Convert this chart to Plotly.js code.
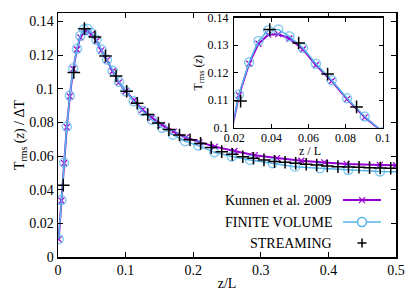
<!DOCTYPE html>
<html>
<head>
<meta charset="utf-8">
<script src="https://cdn.plot.ly/plotly-3.0.1.min.js"></script>
<style>html,body{margin:0;padding:0;background:#fff;}#chart{width:415px;height:291px;}</style>
</head>
<body>
<div id="chart"></div>
<script>
// ---- data ----
const zKunnen = [0.001, 0.005, 0.009, 0.013, 0.0175, 0.0225, 0.028, 0.033, 0.0383, 0.0437, 0.0497, 0.057, 0.064, 0.0725, 0.0808, 0.0903, 0.1, 0.112, 0.125, 0.139, 0.154, 0.171, 0.189, 0.209, 0.232, 0.261, 0.291, 0.324, 0.36, 0.394, 0.427, 0.476, 0.5];
const tKunnen = [0.0105, 0.0335, 0.0558, 0.0772, 0.0955, 0.1118, 0.1233, 0.1305, 0.1338, 0.134, 0.1324, 0.1285, 0.1228, 0.117, 0.1104, 0.1038, 0.0985, 0.093, 0.0875, 0.0828, 0.0785, 0.0745, 0.071, 0.0683, 0.0656, 0.063, 0.0605, 0.0588, 0.0572, 0.0562, 0.0553, 0.0547, 0.0545];

const zFV = [0.001, 0.005, 0.009, 0.013, 0.0175, 0.0225, 0.028, 0.033, 0.0383, 0.0437, 0.0497, 0.057, 0.064, 0.0725, 0.0808, 0.0903, 0.1, 0.112, 0.125, 0.139, 0.154, 0.17, 0.188, 0.2075, 0.2312, 0.257, 0.284, 0.3176, 0.3506, 0.3876, 0.4294, 0.4763, 0.5];
const tFV = [0.0107, 0.0338, 0.0561, 0.0776, 0.096, 0.1121, 0.1238, 0.1315, 0.1354, 0.1357, 0.1332, 0.129, 0.1233, 0.1173, 0.1107, 0.1041, 0.0985, 0.0925, 0.0868, 0.0815, 0.0768, 0.0727, 0.0688, 0.0662, 0.0622, 0.0597, 0.0577, 0.0557, 0.0537, 0.0527, 0.0517, 0.0508, 0.0506];

const zStream = [0.0078, 0.0234, 0.0391, 0.0547, 0.0703, 0.0859, 0.1016, 0.1172, 0.1328, 0.1484, 0.1641, 0.1797, 0.1953, 0.2109, 0.2266, 0.2422, 0.2578, 0.2734, 0.2891, 0.3047, 0.3203, 0.3359, 0.3516, 0.3672, 0.3828, 0.3984, 0.4141, 0.4297, 0.4453, 0.4609, 0.4766, 0.4922];
const tStream = [0.0427, 0.1097, 0.1357, 0.1308, 0.1195, 0.1076, 0.0985, 0.0914, 0.0847, 0.0796, 0.0757, 0.0725, 0.0697, 0.0675, 0.065, 0.0626, 0.061, 0.0596, 0.0587, 0.0577, 0.0567, 0.0563, 0.0557, 0.0551, 0.0547, 0.0541, 0.0537, 0.0535, 0.0533, 0.0531, 0.0529, 0.0527];

const seriesNames = ['Kunnen et al. 2009', 'FINITE VOLUME', 'STREAMING'];
const mainXTicks = [0, 0.1, 0.2, 0.3, 0.4, 0.5];
const mainYTicks = [0, 0.02, 0.04, 0.06, 0.08, 0.1, 0.12, 0.14];
const insetXTicks = [0.02, 0.04, 0.06, 0.08, 0.1];
const insetYTicks = [0.1, 0.11, 0.12, 0.13, 0.14];

// ---- styles ----
const FONT = 'Liberation Serif';
const PURPLE = '#9400d3';
const BLUE = '#56b4e9';
const fvSizes = zFV.map(z => (z >= 0.5 ? 0 : 9));

function makeTraces(xa, ya) {
  return [
    {x: zKunnen, y: tKunnen, xaxis: xa, yaxis: ya, type: 'scatter', mode: 'lines+markers',
     name: seriesNames[0], showlegend: false,
     line: {color: PURPLE, width: 2},
     marker: {symbol: 'x-thin-open', size: 6, line: {color: PURPLE, width: 1.2}, color: PURPLE}},
    {x: zFV, y: tFV, xaxis: xa, yaxis: ya, type: 'scatter', mode: 'lines+markers',
     name: seriesNames[1], showlegend: false,
     line: {color: BLUE, width: 1.5},
     marker: {symbol: 'circle-open', size: fvSizes, line: {color: BLUE, width: 1.5}, color: BLUE}},
    {x: zStream, y: tStream, xaxis: xa, yaxis: ya, type: 'scatter', mode: 'markers',
     name: seriesNames[2], showlegend: false,
     marker: {symbol: 'cross-thin-open', size: 9, line: {color: '#000', width: 1.5}, color: '#000'}}
  ];
}

const data = makeTraces('x', 'y').concat(makeTraces('x2', 'y2'));

// plot-area geometry (pixels) used to place the key in paper units
const L = 58, R = 396, T = 12.7, B = 257;
const px = v => (v - L) / (R - L);
const py = v => (B - v) / (B - T);

// key (drawn gnuplot-style: text right, sample on the right)
const keyRows = [200, 222, 243];
const keyX0 = 343, keyX1 = 381, keyXc = 362;
const shapes = [];
shapes.push({type: 'line', xref: 'paper', yref: 'paper', x0: px(keyX0), x1: px(keyX1), y0: py(keyRows[0]), y1: py(keyRows[0]), line: {color: PURPLE, width: 2}});
shapes.push({type: 'line', xref: 'paper', yref: 'paper', x0: px(keyXc - 3), x1: px(keyXc + 3), y0: py(keyRows[0] - 3), y1: py(keyRows[0] + 3), line: {color: PURPLE, width: 1.2}});
shapes.push({type: 'line', xref: 'paper', yref: 'paper', x0: px(keyXc - 3), x1: px(keyXc + 3), y0: py(keyRows[0] + 3), y1: py(keyRows[0] - 3), line: {color: PURPLE, width: 1.2}});
shapes.push({type: 'line', xref: 'paper', yref: 'paper', x0: px(keyX0), x1: px(keyXc - 4.5), y0: py(keyRows[1]), y1: py(keyRows[1]), line: {color: BLUE, width: 1.5}});
shapes.push({type: 'line', xref: 'paper', yref: 'paper', x0: px(keyXc + 4.5), x1: px(keyX1), y0: py(keyRows[1]), y1: py(keyRows[1]), line: {color: BLUE, width: 1.5}});
shapes.push({type: 'circle', xref: 'paper', yref: 'paper', x0: px(keyXc - 4.5), x1: px(keyXc + 4.5), y0: py(keyRows[1] + 4.5), y1: py(keyRows[1] - 4.5), line: {color: BLUE, width: 1.5}, fillcolor: 'rgba(0,0,0,0)'});
shapes.push({type: 'line', xref: 'paper', yref: 'paper', x0: px(keyXc - 4.5), x1: px(keyXc + 4.5), y0: py(keyRows[2]), y1: py(keyRows[2]), line: {color: '#000', width: 1.5}});
shapes.push({type: 'line', xref: 'paper', yref: 'paper', x0: px(keyXc), x1: px(keyXc), y0: py(keyRows[2] - 4.5), y1: py(keyRows[2] + 4.5), line: {color: '#000', width: 1.5}});

const axisCommon = {
  showgrid: false, zeroline: false, showline: true, linecolor: '#000', linewidth: 1.5,
  mirror: 'ticks', ticks: 'inside', ticklen: 5, tickwidth: 1, tickcolor: '#000',
  tickfont: {family: FONT, size: 14, color: '#000'}, tickmode: 'array'
};

const annotations = seriesNames.map((n, i) => ({
  text: n, xref: 'paper', yref: 'paper', x: px(334), xanchor: 'right',
  y: py(keyRows[i]), yanchor: 'middle', showarrow: false,
  font: {family: FONT, size: 14, color: '#000'}
}));
// inset x-axis title placed just under its tick labels
annotations.push({text: 'z / L', xref: 'paper', yref: 'paper', x: px(310), xanchor: 'center',
  y: py(151), yanchor: 'middle', showarrow: false, font: {family: FONT, size: 12, color: '#000'}});

const layout = {
  width: 415, height: 291,
  margin: {l: 58, r: 19, t: 13, b: 34, pad: 0},
  paper_bgcolor: '#fff', plot_bgcolor: '#fff',
  font: {family: FONT, size: 14, color: '#000'},
  showlegend: false,
  shapes: shapes,
  xaxis: Object.assign({}, axisCommon, {domain: [0, 1], range: [0, 0.5], tickvals: mainXTicks,
          ticktext: mainXTicks.map(String), anchor: 'y',
          title: {text: 'z/L', font: {family: FONT, size: 14}, standoff: 14}}),
  yaxis: Object.assign({}, axisCommon, {domain: [0, 1], range: [0, 0.145], tickvals: mainYTicks,
          ticktext: mainYTicks.map(String), anchor: 'x',
          title: {text: 'T<sub>rms</sub> (<i>z</i>) / ΔT', font: {family: FONT, size: 14}, standoff: 0}}),
  xaxis2: Object.assign({}, axisCommon, {domain: [0.5216, 0.9607], range: [0.02, 0.1], tickvals: insetXTicks,
          ticktext: insetXTicks.map(String), anchor: 'y2', ticklen: 4, ticklabelstandoff: -2,
          tickfont: {family: FONT, size: 12, color: '#000'}}),
  yaxis2: Object.assign({}, axisCommon, {domain: [0.5293, 0.9812], range: [0.1, 0.14], tickvals: insetYTicks,
          ticktext: insetYTicks.map(String), anchor: 'x2', ticklen: 4, ticklabelstandoff: 2,
          tickfont: {family: FONT, size: 12, color: '#000'},
          title: {text: 'T<sub>rms</sub> (<i>z</i>)', font: {family: FONT, size: 12}, standoff: 2}}),
  annotations: annotations
};

Plotly.newPlot('chart', data, layout, {staticPlot: true, displayModeBar: false});
</script>
</body>
</html>
